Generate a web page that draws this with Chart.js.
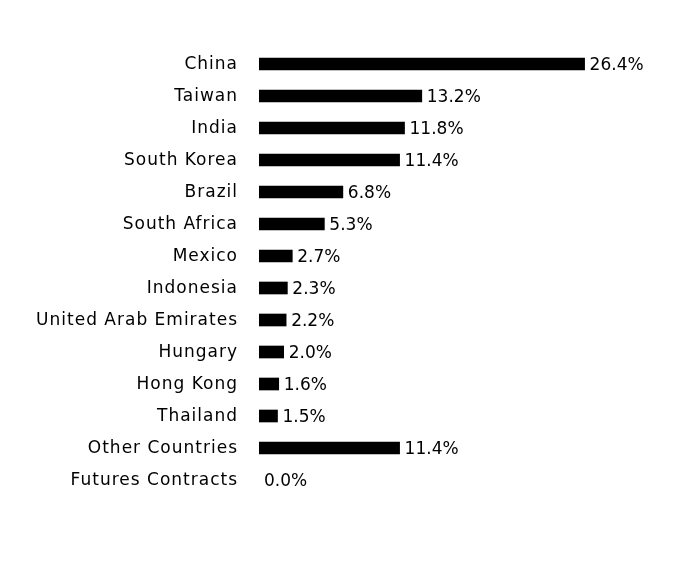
<!DOCTYPE html>
<html>
<head>
<meta charset="utf-8">
<script src="https://cdn.jsdelivr.net/npm/chart.js@4"></script>
<style>
  html, body { margin: 0; padding: 0; background: #fff; }
  #wrap { width: 696px; height: 576px; }
</style>
</head>
<body>
<div id="wrap"><canvas id="barChart"></canvas></div>
<script>
// countries / weights (%)
let countries = ['China', 'Taiwan', 'India', 'South Korea', 'Brazil', 'South Africa', 'Mexico',
    'Indonesia', 'United Arab Emirates', 'Hungary', 'Hong Kong', 'Thailand', 'Other Countries', 'Futures Contracts'];
let weights = [26.4, 13.2, 11.8, 11.4, 6.8, 5.3, 2.7, 2.3, 2.2, 2.0, 1.6, 1.5, 11.4, 0.0];

const FONT = 'DejaVu Sans';

// the reference font is a bit looser than DejaVu, so open up the spacing
const spacing = {
    id: 'spacing',
    beforeLayout(chart) { chart.ctx.letterSpacing = '1px'; },
    beforeDraw(chart) { chart.ctx.letterSpacing = '1px'; }
};

// draws "xx.x%" just past the end of each bar
const valueLabels = {
    id: 'valueLabels',
    afterDatasetsDraw(chart) {
        const ctx = chart.ctx;
        const meta = chart.getDatasetMeta(0);
        ctx.save();
        ctx.letterSpacing = '0px';
        ctx.font = '17px "' + FONT + '"';
        ctx.fillStyle = '#000';
        ctx.textAlign = 'left';
        ctx.textBaseline = 'middle';
        meta.data.forEach(function (bar, i) {
            ctx.fillText(weights[i].toFixed(1) + '%', bar.x + 5, bar.y + 2);
        });
        ctx.restore();
    }
};

document.addEventListener('DOMContentLoaded', function () {
    var ctx = document.getElementById('barChart').getContext('2d');
    new Chart(ctx, {
        type: 'bar',
        data: {
            labels: countries,
            datasets: [{
                data: weights,
                backgroundColor: function (c) { return c.raw > 0 ? '#000' : 'rgba(0,0,0,0)'; },
                borderWidth: 0,
                barThickness: 12
            }]
        },
        options: {
            indexAxis: 'y',
            responsive: true,
            maintainAspectRatio: false,
            animation: false,
            layout: {
                padding: { top: 48, bottom: 80, left: 0, right: 67 }
            },
            scales: {
                x: {
                    display: false,
                    min: 0,
                    max: 30
                },
                y: {
                    afterFit: function (scale) { scale.width = 259; },
                    grid: { display: false, drawTicks: false },
                    border: { display: false },
                    ticks: {
                        color: '#000',
                        padding: 21,
                        labelOffset: 1,
                        font: { family: FONT, size: 17 }
                    }
                }
            },
            plugins: {
                legend: { display: false },
                tooltip: { enabled: false }
            }
        },
        plugins: [spacing, valueLabels]
    });
});
</script>
</body>
</html>
